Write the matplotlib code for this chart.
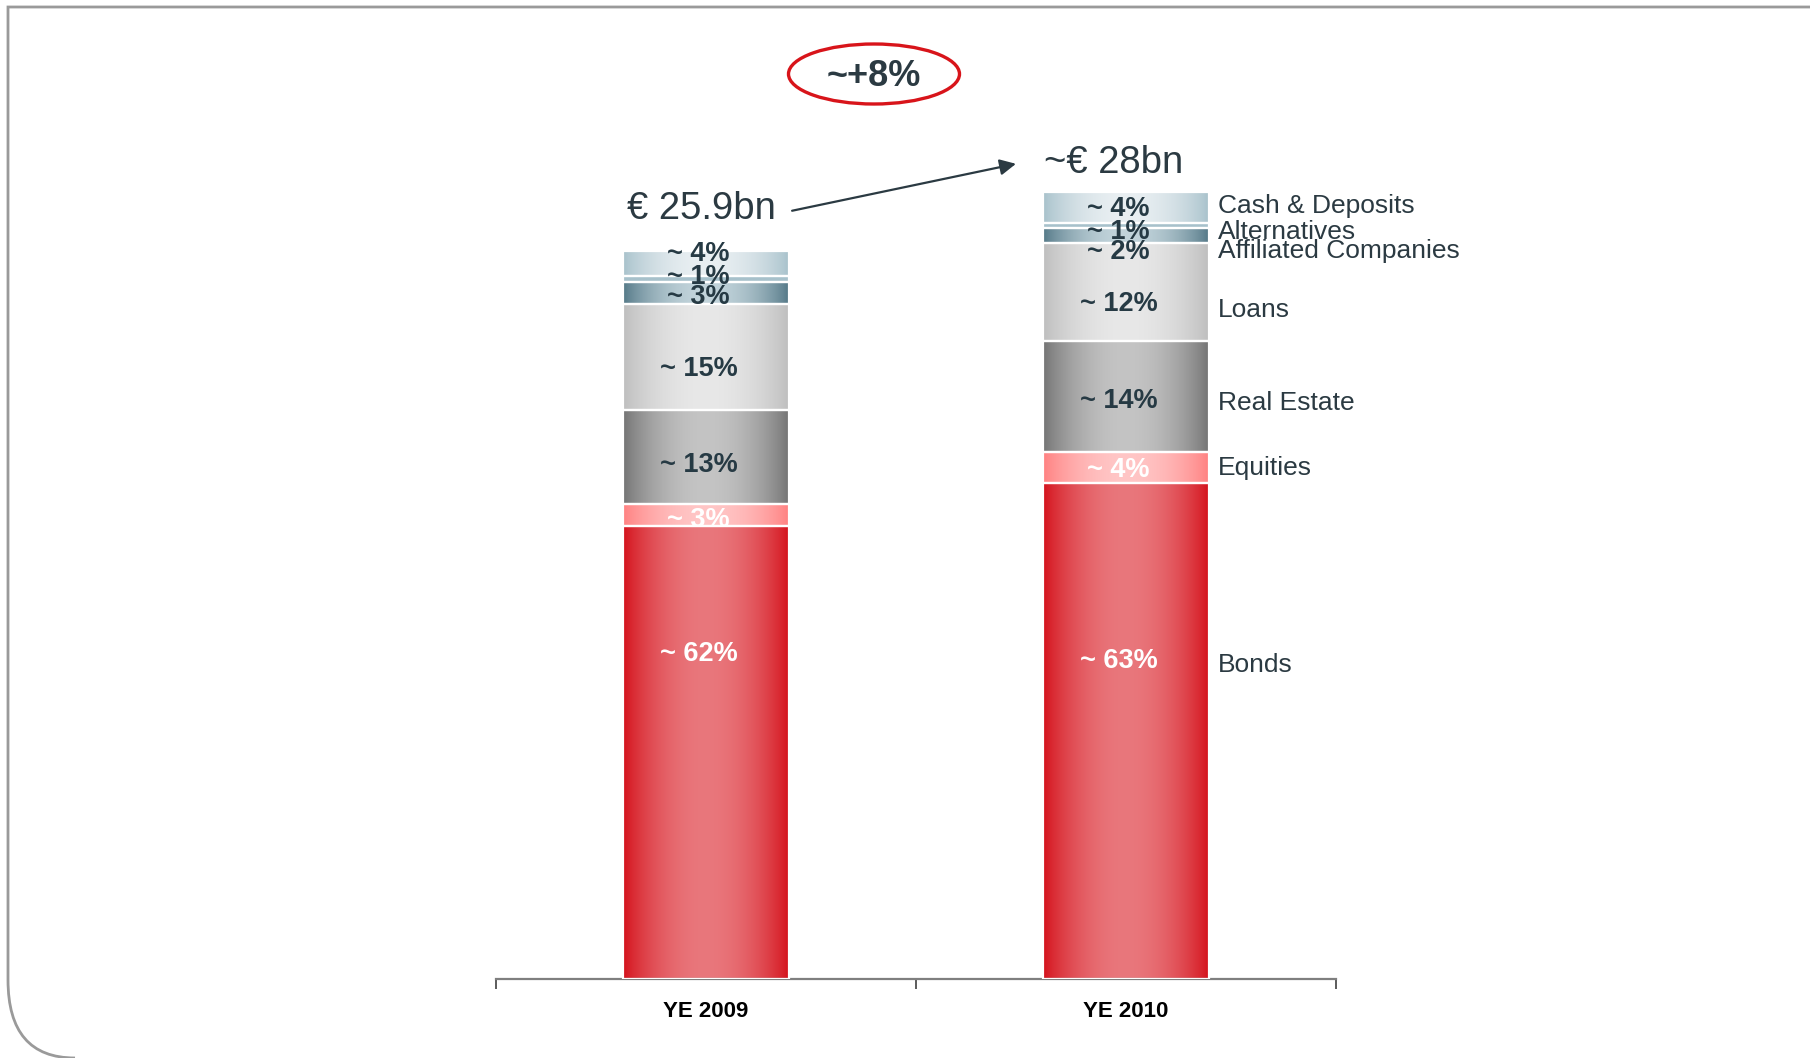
import numpy as np
import matplotlib
matplotlib.use("Agg")
import matplotlib.pyplot as plt
from matplotlib.patches import Ellipse, PathPatch
from matplotlib.path import Path
from matplotlib.colors import to_rgb

plt.rcParams['font.family'] = ['Liberation Sans', 'DejaVu Sans']

# data: segments from bottom to top
categories = ["YE 2009", "YE 2010"]
asset_classes = ["Bonds", "Equities", "Real Estate", "Loans",
                 "Affiliated Companies", "Alternatives", "Cash & Deposits"]
totals = [25.9, 28.0]  # EUR bn
# shares (%)
shares_2009 = [62.2, 3.0, 12.9, 14.6, 3.0, 0.8, 3.4]
shares_2010 = [63.0, 3.9, 14.1, 12.5, 1.8, 0.7, 3.9]
# rounded shares printed in the bars
labels_2009 = [62, 3, 13, 15, 3, 1, 4]
labels_2010 = [63, 4, 14, 12, 2, 1, 4]
total_labels = ["€ 25.9bn", "~€ 28bn"]

# styling
edge_cols = ["#d4101a", "#ff7f7f", "#727272", "#bdbdbd", "#527786", "#a7c1cb", "#a7c1cb"]
mid_cols = ["#e9777c", "#ffc6c6", "#c4c4c4", "#e8e8e8", "#c2d4db", "#a7c1cb", "#e9eff2"]
pct_cols = ["white", "white", "#263a44", "#263a44", "#263a44", "#263a44", "#263a44"]
txt_col = "#2b3a42"
# label nudges (data units, up positive)
pct_off = [[3.49, -0.18, -0.28, -0.45, -0.14, 0.07, 0.35],
           [2.5, -0.1, -0.17, -0.45, -0.60, -0.22, -0.04]]
name_off = [2.33, -0.02, -0.22, -0.66, -0.54, -0.22, 0.06]

W, H = 1810, 1058
fig = plt.figure(figsize=(W / 100, H / 100), dpi=100)
ax = fig.add_axes([496 / W, 79 / H, 840 / W, 843 / H])

bar_w = 0.395
x = np.arange(len(categories))
t = np.linspace(0, 1, 200)
prof = np.sin(np.pi * t) ** 0.8


def gradient(c_edge, c_mid):
    a = np.array(to_rgb(c_edge))
    b = np.array(to_rgb(c_mid))
    return (a[None, :] + (b - a)[None, :] * prof[:, None])[None, :, :]


all_shares = [shares_2009, shares_2010]
all_labels = [labels_2009, labels_2010]
seg_centers = []
for i in range(len(categories)):
    vals = np.array(all_shares[i]) / np.sum(all_shares[i]) * totals[i]
    bottoms = np.concatenate([[0], np.cumsum(vals)[:-1]])
    seg_centers.append(bottoms + vals / 2)
    for j in range(len(vals)):
        x0 = x[i] - bar_w / 2
        ax.imshow(gradient(edge_cols[j], mid_cols[j]),
                  extent=(x0, x0 + bar_w, bottoms[j], bottoms[j] + vals[j]),
                  aspect='auto', interpolation='bilinear', zorder=2)
    ax.bar(np.full(len(vals), x[i]), vals, bottom=bottoms, width=bar_w,
           facecolor='none', edgecolor='white', linewidth=1.6, zorder=3)
    for j in range(len(vals)):
        ax.text(x[i] - 0.018, seg_centers[i][j] + pct_off[i][j], f"~ {all_labels[i][j]}%",
                ha='center', va='center', fontsize=19.5, fontweight='bold',
                color=pct_cols[j], zorder=5)

# category names on the right of the 2010 bar
for j, name in enumerate(asset_classes):
    ax.text(x[1] + bar_w / 2 + 0.022, seg_centers[1][j] + name_off[j], name,
            ha='left', va='center', fontsize=19, color=txt_col)

# totals above the bars
ax.text(x[0] - 0.01, totals[0] + 1.5, total_labels[0], ha='center', va='center',
        fontsize=27.5, color=txt_col)
ax.text(x[1] - 0.03, totals[1] + 1.05, total_labels[1], ha='center', va='center',
        fontsize=27.5, color=txt_col, clip_on=False)
ax.annotate("", xy=(x[1] - 0.262, totals[1] + 1.01), xytext=(x[0] + 0.205, totals[0] + 1.44),
            arrowprops=dict(arrowstyle='-|>', color=txt_col, lw=1.6, mutation_scale=24,
                            shrinkA=0, shrinkB=0), annotation_clip=False)

ax.set_xlim(-0.5, 1.5)
ax.set_ylim(0, 30)
ax.set_xticks(x)
ax.set_xticklabels(categories, fontsize=16, fontweight='bold', color='black')
ax.set_xticks([-0.5, 0.5, 1.5], minor=True)
ax.tick_params(axis='x', which='major', length=0, pad=16)
ax.tick_params(axis='x', which='minor', length=7, width=1.2, color='#404040', direction='out')
ax.set_yticks([])
for s in ['top', 'right', 'left']:
    ax.spines[s].set_visible(False)
ax.spines['bottom'].set_color('#7f7f7f')
ax.spines['bottom'].set_linewidth(1.6)
ax.set_zorder(2)

# growth bubble
growth = totals[1] / totals[0] - 1
fig.patches.append(Ellipse((874 / W, 1 - 74 / H), 171 / W, 60 / H, transform=fig.transFigure,
                           facecolor='white', edgecolor='#d8141a', linewidth=2.4))
fig.text(874 / W, 1 - 76 / H, f"~+{growth * 100:.0f}%", ha='center', va='center',
         fontsize=26, fontweight='bold', color=txt_col)

# slide frame with rounded lower-left corner
verts = [(1.0, 1 - 7 / H), (8 / W, 1 - 7 / H), (8 / W, 1 - 980 / H),
         (8 / W, 0.0), (75 / W, 0.0)]
codes = [Path.MOVETO, Path.LINETO, Path.LINETO, Path.CURVE3, Path.CURVE3]
fig.patches.append(PathPatch(Path(verts, codes), transform=fig.transFigure,
                             facecolor='none', edgecolor='#9a9a9a', linewidth=2))

fig.savefig("out.png", dpi=100)
